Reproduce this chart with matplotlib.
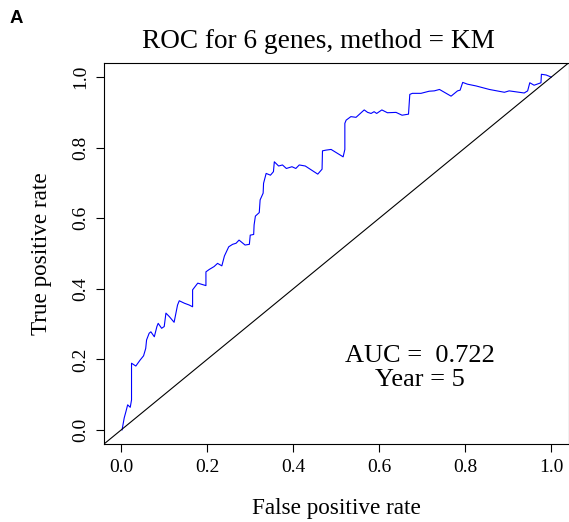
#!/usr/bin/env python3
import matplotlib
import matplotlib.pyplot as plt

matplotlib.use("Agg")

# values
fpr = [0.002, 0.007, 0.011, 0.015, 0.021, 0.024, 0.024, 0.034, 0.044, 0.052,
       0.057, 0.059, 0.065, 0.069, 0.077, 0.083, 0.086, 0.094, 0.100, 0.104,
       0.112, 0.123, 0.131, 0.135, 0.147, 0.158, 0.166, 0.166, 0.178, 0.197,
       0.197, 0.205, 0.216, 0.224, 0.234, 0.240, 0.250, 0.259, 0.267, 0.274,
       0.288, 0.298, 0.300, 0.308, 0.309, 0.312, 0.321, 0.323, 0.330, 0.331,
       0.337, 0.347, 0.354, 0.356, 0.366, 0.375, 0.384, 0.397, 0.406, 0.414,
       0.428, 0.457, 0.467, 0.468, 0.476, 0.488, 0.516, 0.520, 0.520, 0.523,
       0.534, 0.546, 0.565, 0.573, 0.581, 0.588, 0.594, 0.606, 0.619, 0.639,
       0.653, 0.668, 0.671, 0.677, 0.697, 0.716, 0.728, 0.740, 0.767, 0.782,
       0.788, 0.794, 0.805, 0.825, 0.856, 0.891, 0.902, 0.937, 0.945, 0.950,
       0.960, 0.976, 0.977, 0.988, 1.000]
tpr = [0.000, 0.034, 0.052, 0.071, 0.064, 0.085, 0.189, 0.181, 0.198, 0.210,
       0.231, 0.255, 0.274, 0.278, 0.264, 0.293, 0.302, 0.288, 0.293, 0.331,
       0.321, 0.305, 0.354, 0.366, 0.359, 0.354, 0.349, 0.397, 0.416, 0.409,
       0.448, 0.455, 0.463, 0.472, 0.465, 0.493, 0.519, 0.526, 0.529, 0.538,
       0.524, 0.526, 0.552, 0.554, 0.581, 0.606, 0.616, 0.652, 0.671, 0.699,
       0.727, 0.722, 0.732, 0.760, 0.748, 0.751, 0.741, 0.746, 0.741, 0.751,
       0.748, 0.725, 0.739, 0.791, 0.793, 0.795, 0.774, 0.795, 0.869, 0.878,
       0.888, 0.886, 0.907, 0.900, 0.897, 0.902, 0.897, 0.907, 0.899, 0.900,
       0.892, 0.895, 0.951, 0.954, 0.954, 0.960, 0.961, 0.965, 0.946, 0.961,
       0.963, 0.985, 0.980, 0.975, 0.965, 0.957, 0.961, 0.955, 0.961, 0.984,
       0.977, 0.984, 1.008, 1.006, 1.000]
ticks = [0.0, 0.2, 0.4, 0.6, 0.8, 1.0]
tick_labels = ["0.0", "0.2", "0.4", "0.6", "0.8", "1.0"]
auc = 0.722
year = 5
n_genes = 6
method = "KM"

plt.rcParams["font.family"] = "Liberation Serif"

W, H = 569, 522
fig = plt.figure(figsize=(W / 100, H / 100), dpi=100)
ax = fig.add_axes([104 / W, 1 - 444 / H, (568.5 - 104) / W, (444 - 63) / H])

ax.plot(fpr, tpr, color="#0000ff", lw=0.8)
ax.axline((0, 0), slope=1, color="black", lw=0.8)
ax.set_xlim(-0.04, 1.04)
ax.set_ylim(-0.04, 1.04)

ax.set_xticks(ticks)
ax.set_xticklabels(tick_labels)
ax.set_yticks(ticks)
ax.set_yticklabels(tick_labels, rotation=90, va="center")
ax.tick_params(direction="out", length=5.5, width=0.8, labelsize=14, pad=5)
for s in ax.spines.values():
    s.set_linewidth(0.8)

ax.text(0.694, 0.193, f"AUC =  {auc}", ha="center", va="baseline", fontsize=19)
ax.text(0.694, 0.123, f"Year = {year}", ha="center", va="baseline", fontsize=19)

fig.text(318.8 / W, 1 - 47.5 / H, f"ROC for {n_genes} genes, method = {method}",
         ha="center", va="baseline", fontsize=19.6)
fig.text(336 / W, 1 - 514 / H, "False positive rate",
         ha="center", va="baseline", fontsize=16.7)
fig.text(42 / W, 1 - 253.5 / H, "True positive rate", rotation=90,
         ha="center", va="center", fontsize=16.7)
fig.text(10 / W, 1 - 22.7 / H, "A", family="Liberation Sans", weight="bold",
         ha="left", va="baseline", fontsize=13.4)

fig.savefig("out.png", dpi=100)
